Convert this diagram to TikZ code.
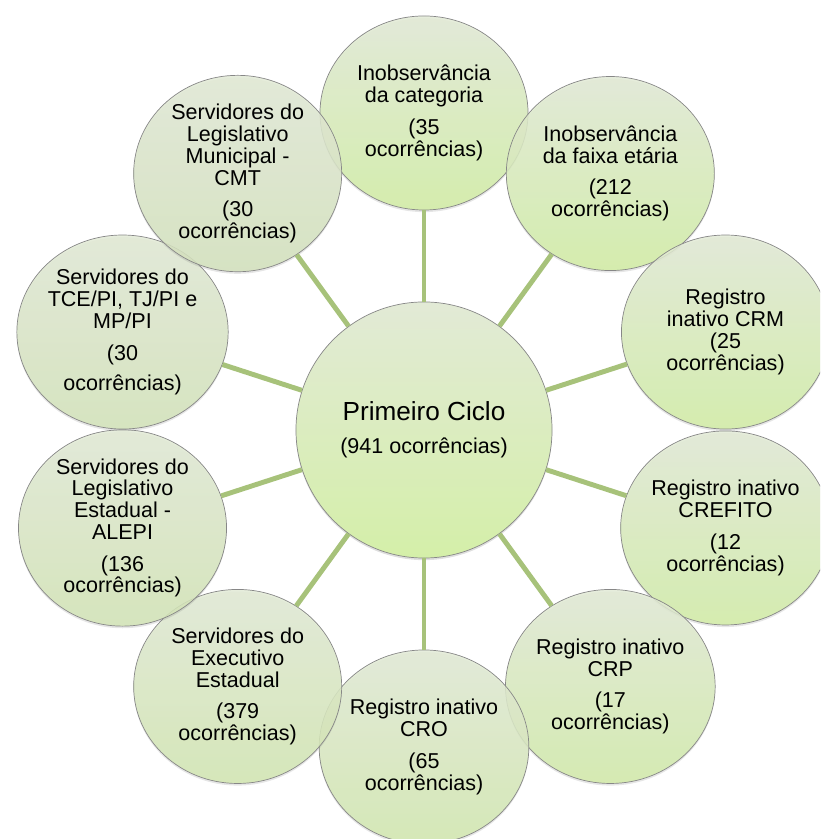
\documentclass[tikz,border=0pt]{standalone}
\usepackage{fontspec}
\setmainfont{Liberation Sans}
\usepackage{xcolor}
\usepackage{tikz}
\usetikzlibrary{shapes.geometric, shadows, calc}

\definecolor{leafvivid}{RGB}{210,238,164}
\definecolor{leafgray}{RGB}{213,225,192}
\definecolor{leaftop}{RGB}{226,234,214}
\definecolor{spokegreen}{RGB}{167,194,122}
\definecolor{rim}{RGB}{135,135,135}

\begin{document}
\begin{tikzpicture}[x=0.025cm, y=0.025cm,
        hub/.style={circle, draw=rim, line width=0.5pt, minimum size=6.4cm, inner sep=0pt,
                top color=leaftop, bottom color=leafvivid!95!white, align=center,
                font=\fontsize{15.3}{15.5}\selectfont,
                drop shadow={opacity=0.25, shadow xshift=0pt, shadow yshift=-1.5pt}},
        leaf/.style={ellipse, draw=rim, line width=0.5pt, minimum width=5.2cm, minimum height=4.85cm,
                inner sep=0pt, top color=leaftop, bottom color=leafmix, fill opacity=0.85, text opacity=1,
                align=center, font=\fontsize{15.3}{15.5}\selectfont,
                drop shadow={opacity=0.2, shadow xshift=0pt, shadow yshift=-1.5pt}},
        spoke/.style={spokegreen, line width=3.5pt}]
        \clip (0,0) rectangle (820,839);

        % Center circle
        \node[hub] (ciclo) at (424,409) {{\fontsize{18.6}{20}\selectfont Primeiro Ciclo}\\[8pt](941 ocorrências)};

        % Outer circles, clockwise from the top
        \foreach \a/\n/\p/\t in {
                90/categoria/100/{Inobservância\\da categoria\\[7pt](35\\ocorrências)},
                54/faixa/100/{Inobservância\\da faixa etária\\[7pt](212\\ocorrências)},
                18/crm/95/{Registro\\inativo CRM\\(25\\ocorrências)},
                -18/crefito/90/{Registro inativo\\CREFITO\\[7pt](12\\ocorrências)},
                -54/crp/80/{Registro inativo\\CRP\\[7pt](17\\ocorrências)},
                -90/cro/60/{Registro inativo\\CRO\\[7pt](65\\ocorrências)},
                -126/executivo/50/{Servidores do\\Executivo\\Estadual\\[7pt](379\\ocorrências)},
                -162/alepi/35/{Servidores do\\Legislativo\\Estadual -\\ALEPI\\[7pt](136\\ocorrências)},
                162/tce/20/{Servidores do\\TCE/PI, TJ/PI e\\MP/PI\\[7pt](30\\[6pt]ocorrências)},
                126/cmt/10/{Servidores do\\Legislativo\\Municipal -\\CMT\\[7pt](30\\ocorrências)}} {
                \colorlet{leafmix}{leafvivid!\p!leafgray}
                \node[leaf] (\n) at ($(ciclo)+(\a:317)$) {\t};
            }

        % Spokes
        \foreach \n in {categoria, faixa, crm, crefito, crp, cro, executivo, alepi, tce, cmt}
            \draw[spoke] (ciclo) -- (\n);

    \end{tikzpicture}
\end{document}
